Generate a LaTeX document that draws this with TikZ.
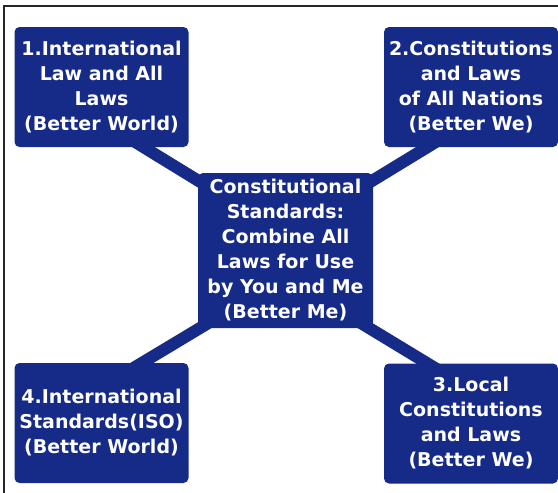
\documentclass[tikz,border=0pt]{standalone}
\usepackage{fontspec}
\setmainfont{DejaVu Sans}
\usetikzlibrary{backgrounds}
\definecolor{lawblue}{RGB}{22,42,136}
\tikzset{
  lawbox/.style={rectangle, rounded corners=5pt, fill=lawblue, text=white,
    font=\bfseries\fontsize{19}{25}\selectfont, align=center, inner sep=0pt,
    minimum width=174pt, minimum height=120pt},
  spoke/.style={draw=lawblue, line width=12pt, shorten <=-12pt}
}
\begin{document}
\begin{tikzpicture}[x=1pt, y=-1pt]
            \useasboundingbox (0,0) rectangle (558,493);
            \draw [black!85, line width=1.5pt] (558,6) -- (4,6) -- (4,493);
            \node [lawbox] (1) at (101.5,87) {1.International\\Law and All\\Laws\\(Better World)};
            \node [lawbox] (2) at (471,87) {2.Constitutions\\and Laws\\of All Nations\\(Better We)};
            \node [lawbox] (3) at (471,423.5) {3.Local\\Constitutions\\and Laws\\(Better We)};
            \node [lawbox] (4) at (101.5,423) {4.International\\Standards(ISO)\\(Better World)};
            \node [lawbox, minimum width=175pt, minimum height=155pt] (0) at (285.5,250.5) {Constitutional\\Standards:\\Combine All\\Laws for Use\\by You and Me\\(Better Me)};
            \coordinate (hubtop) at (285,234);
            \coordinate (hubbot) at (285,277);
            \begin{pgfonlayer}{background}
              \path [spoke] (1.305) -- (hubtop);
              \path [spoke] (2.234) -- (hubtop);
              \path [spoke] (3.126) -- (hubbot);
              \path [spoke] (4.56) -- (hubbot);
            \end{pgfonlayer}
        \end{tikzpicture}
\end{document}
